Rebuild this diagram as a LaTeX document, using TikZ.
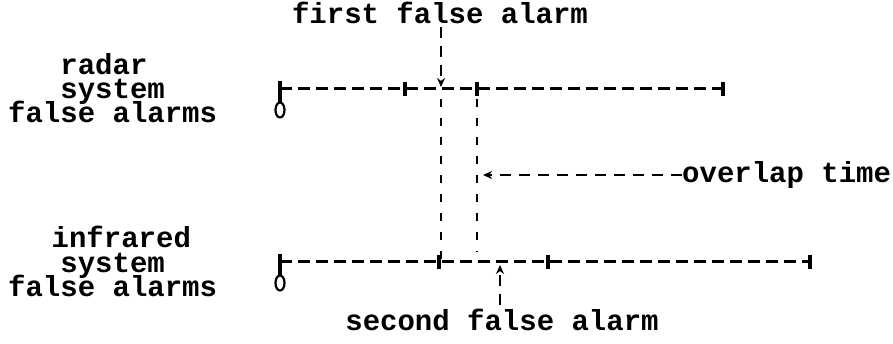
\documentclass[tikz,border=0pt]{standalone}
\usepackage{fontspec}
\setmonofont{Liberation Mono}
\usetikzlibrary{arrows.meta,positioning}
\newcommand{\lblfont}{\ttfamily\bfseries\fontsize{29}{24}\selectfont\lineskiplimit=-50pt\relax}

\begin{document}
\begin{tikzpicture}[x=1pt, y=-1pt,
  lbl/.style={font=\lblfont, inner sep=0pt},
  tl/.style={line width=3pt, dash pattern=on 12pt off 6pt},
  vl/.style={line width=2.6pt, dash pattern=on 8pt off 11pt},
  tickmark/.style={line width=3.4pt},
  arr/.style={-{Stealth[length=9pt,width=8pt]}, line width=2.6pt, dash pattern=on 11pt off 8pt}
]
\useasboundingbox (0,0) rectangle (893,344);

% Radar time line
\coordinate (r0) at (280,89);
\coordinate (r1) at (405,89);
\coordinate (r2) at (477,89);
\coordinate (r3) at (723,89);
\coordinate (hit1) at (441,89);
\draw[tl] (r0) -- (r3);

% Infrared time line
\coordinate (i0) at (280,262);
\coordinate (i1) at (439,262);
\coordinate (i2) at (548,262);
\coordinate (i3) at (810,262);
\coordinate (hit2) at (500,262);
\draw[tl] (i0) -- (i3);

% Ticks and zero marks
\foreach \p in {r1,r2,r3,i1,i2,i3}
  \draw[tickmark] ([yshift=7pt]\p) -- ([yshift=-7pt]\p);
\foreach \p in {r0,i0} {
  \draw[tickmark] ([yshift=8pt]\p) -- ([yshift=-14pt]\p);
  \draw[line width=2.2pt] ([yshift=-21pt]\p) ellipse [x radius=4.5pt, y radius=7.5pt];
}

% System labels (base = last line)
\node[lbl, align=left, anchor=base west] (radar) at (8,123)
  {\hspace*{1.8em}radar\\\hspace*{1.8em}system\\false alarms};
\node[lbl, align=left, anchor=base west] (infrared) at (8,296)
  {\hspace*{1.5em}infrared\\\hspace*{1.8em}system\\false alarms};

% Overlap boundaries
\coordinate (v2end) at (477,252);
\draw[vl] ([yshift=-10pt]hit1) -- (hit1 |- i1);
\draw[vl] ([yshift=-10pt]r2) -- (v2end);

% Alarm labels
\node[lbl, anchor=base] (first) at (440,24) {first false alarm};
\node[lbl, anchor=base] (second) at (502,330) {second false alarm};
\node[lbl, anchor=west] (overlap) at (682,175) {overlap time};
\coordinate (ov) at (483,175);

\draw[arr] ([yshift=-3pt]hit1 |- first.south) -- ([yshift=2pt]hit1);
\draw[arr] ([yshift=3pt]hit2 |- second.north) -- ([yshift=-3pt]hit2);
\draw[arr] (overlap.west) -- (ov);

\end{tikzpicture}
\end{document}
